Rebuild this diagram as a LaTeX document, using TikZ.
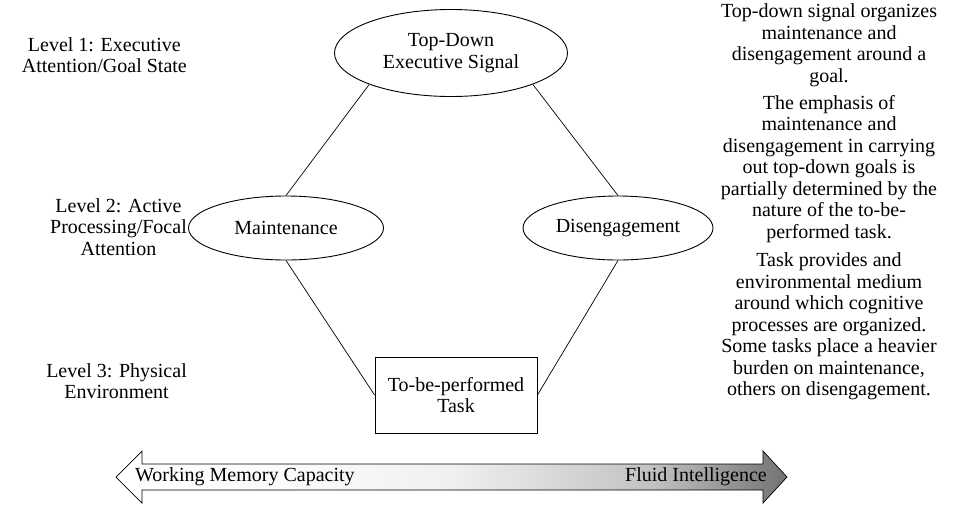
\documentclass[tikz,border=0pt]{standalone}
\usepackage{fontspec}
\setmainfont{Liberation Serif}
\usetikzlibrary{shapes.geometric}
\pgfdeclarehorizontalshading{wmcfade}{100bp}{color(0bp)=(white); color(25bp)=(white);
  color(40bp)=(black!2); color(50bp)=(black!6); color(65bp)=(black!24); color(75bp)=(black!55);
  color(100bp)=(black!55)}

\begin{document}
\begin{tikzpicture}[x=1pt, y=-1pt,
    every node/.style={font=\fontsize{20}{21.5}\selectfont},
    oval/.style={draw, ellipse, line width=0.9pt, inner sep=0pt, align=center},
    levelnote/.style={align=center, anchor=east, inner sep=0pt},
    sidenote/.style={align=center, inner sep=0pt},
    link/.style={line width=0.7pt}]
  \useasboundingbox (0,0) rectangle (957,504);
  % Central nodes
  \node[oval, minimum width=233pt, minimum height=87pt] (topsig) at (451,53) {Top-Down\\Executive Signal};
  \node[oval, minimum width=195pt, minimum height=64pt] (maint) at (286,228) {Maintenance};
  \node[oval, minimum width=190pt, minimum height=64pt] (diseng) at (618,228) {Disengagement};
  \node[draw, line width=0.9pt, minimum width=162pt, minimum height=76pt, align=center] (task) at (456,395) {To-be-performed\\Task};
  % Connectors
  \draw[link] (topsig.201) -- (maint.north);
  \draw[link] (topsig.339) -- (diseng.north);
  \draw[link] (maint.south) -- (task.west);
  \draw[link] (diseng.south) -- (task.east);
  % Level labels
  \node[levelnote] (lvlone) at (187,55) {Level 1: Executive\\Attention/Goal State};
  \node[levelnote] (lvltwo) at (187,227) {Level 2: Active\\Processing/Focal\\Attention};
  \node[levelnote] (lvlthree) at (187,381) {Level 3: Physical\\Environment};
  % Notes on the right
  \node[sidenote] (notegoal) at (829,45) {Top-down signal organizes\\maintenance and\\disengagement around a\\goal.};
  \node[sidenote] (noteemph) at (829,169) {The emphasis of\\maintenance and\\disengagement in carrying\\out top-down goals is\\partially determined by the\\nature of the to-be-\\performed task.};
  \node[sidenote] (notetask) at (829,326.5) {Task provides and\\environmental medium\\around which cognitive\\processes are organized.\\Some tasks place a heavier\\burden on maintenance,\\others on disengagement.};
  % Double arrow
  \shadedraw[shading=wmcfade, line width=0.7pt]
    (116,477) -- (142,451) -- (142,464) -- (763,464) -- (763,451) -- (787,477)
    -- (763,503) -- (763,490) -- (142,490) -- (142,503) -- cycle;
  \node[anchor=west, inner sep=0pt] (wmc) at (135,477) {Working Memory Capacity};
  \node[anchor=east, inner sep=0pt] (gf) at (767,477) {Fluid Intelligence};
\end{tikzpicture}
\end{document}
